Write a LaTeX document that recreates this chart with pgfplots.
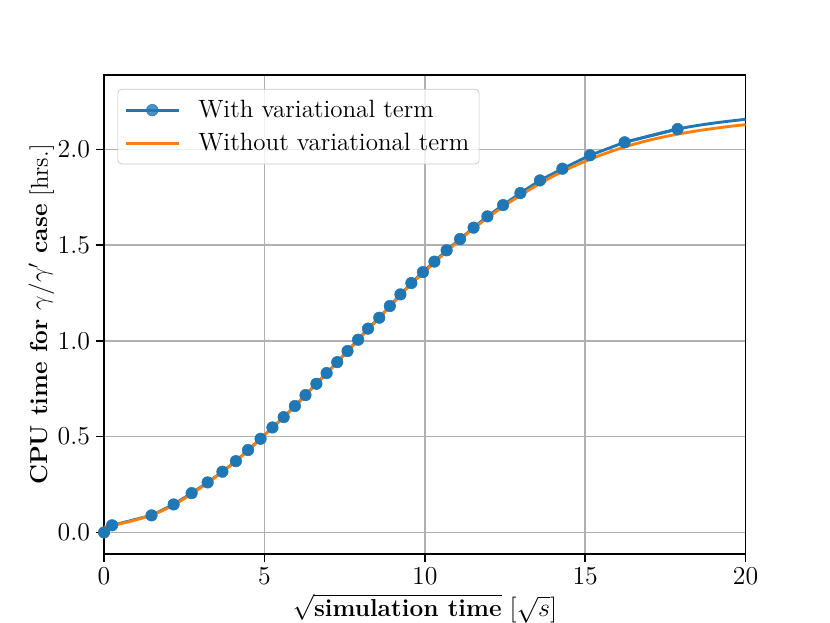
\documentclass[border=0pt]{standalone}
\usepackage{pgfplots}
\pgfplotsset{compat=1.18}
\definecolor{cblue}{HTML}{1F77B4}
\definecolor{corange}{HTML}{FF7F0E}
\definecolor{cgrid}{HTML}{B0B0B0}
\begin{document}
\begin{tikzpicture}
\path[use as bounding box] (-57.8bp,-38.3bp) rectangle (403.3bp,307.8bp);
\begin{axis}[
  at={(0,0)}, anchor=south west,
  scale only axis, width=356.4bp, height=266.1bp,
  xmin=0, xmax=20, ymin=-0.113, ymax=2.388,
  xtick={0,5,10,15,20},
  ytick={0,0.5,1,1.5,2},
  yticklabel style={/pgf/number format/.cd,fixed,fixed zerofill,precision=1},
  tick pos=left, tick align=outside,
  major tick length=4.3bp,
  every tick/.style={black, line width=0.8bp},
  axis line style={line width=0.8bp},
  grid=major,
  major grid style={cgrid, line width=0.8bp},
  font=\fontsize{13.6bp}{16bp}\selectfont,
  ticklabel style={font=\fontsize{13.6bp}{16bp}\selectfont},
  xlabel={$\sqrt{\textbf{simulation time}}$ $\left[\sqrt{s}\right]$},
  ylabel={\textbf{CPU time for $\gamma/\gamma'$ case} [hrs.]},
  xlabel style={yshift=2bp},
  ylabel style={yshift=-5bp},
  legend cell align=left,
  legend style={at={(0.021,0.971)}, anchor=north west,
    draw=cgrid!70, rounded corners=2bp, fill=white, fill opacity=0.8, text opacity=1,
    font=\fontsize{13.9bp}{16bp}\selectfont,
    row sep=3.2bp, column sep=8bp, inner xsep=3.5bp, inner ysep=4bp},
  legend image code/.code={\draw[mark repeat=2,mark phase=2,#1] plot coordinates {(0bp,0bp) (14.8bp,0bp) (29.6bp,0bp)};},
]
\addplot[cblue, line width=1.6bp, mark=*, mark size=3.2bp, mark options={solid, fill=cblue, draw=cblue, line width=0.3bp}] coordinates {
(0,0) (0.25,0.037) (1.48,0.089) (2.17,0.146) (2.73,0.205) (3.23,0.261) (3.69,0.317)
(4.11,0.372) (4.49,0.430) (4.88,0.489) (5.25,0.548) (5.60,0.602) (5.95,0.660)
(6.28,0.717) (6.62,0.776) (6.94,0.832) (7.27,0.889) (7.59,0.947) (7.92,1.006)
(8.23,1.064) (8.58,1.121) (8.91,1.182) (9.24,1.243) (9.58,1.302) (9.94,1.359)
(10.30,1.414) (10.68,1.473) (11.10,1.532) (11.52,1.591) (11.95,1.650) (12.44,1.709)
(12.98,1.772) (13.59,1.838) (14.29,1.899) (15.15,1.969) (16.23,2.037) (17.88,2.106)
};
\addlegendentry{With variational term}
\addplot[cblue, line width=1.6bp, no marks, smooth, forget plot] coordinates {
(16.23,2.037) (17.88,2.106) (19,2.137) (20,2.157)
};
\addplot[corange, line width=1.6bp, no marks, smooth] coordinates {
(0,0.028) (0.5,0.045) (1,0.066) (1.5,0.092) (2,0.128) (2.5,0.176) (3,0.232)
(3.5,0.292) (4,0.357) (4.5,0.430) (5,0.508) (5.5,0.586) (6,0.668) (6.5,0.755)
(7,0.842) (7.5,0.930) (8,1.018) (8.5,1.107) (9,1.195) (9.5,1.285) (10,1.362)
(10.5,1.440) (11,1.514) (11.5,1.584) (12,1.648) (12.5,1.708) (13,1.762)
(13.5,1.813) (14,1.860) (14.5,1.901) (15,1.938) (15.5,1.971) (16,2.000)
(16.5,2.026) (17,2.048) (17.5,2.067) (18,2.083) (18.5,2.097) (19,2.109)
(19.5,2.120) (20,2.129)
};
\addlegendentry{Without variational term}
\end{axis}
\end{tikzpicture}
\end{document}
